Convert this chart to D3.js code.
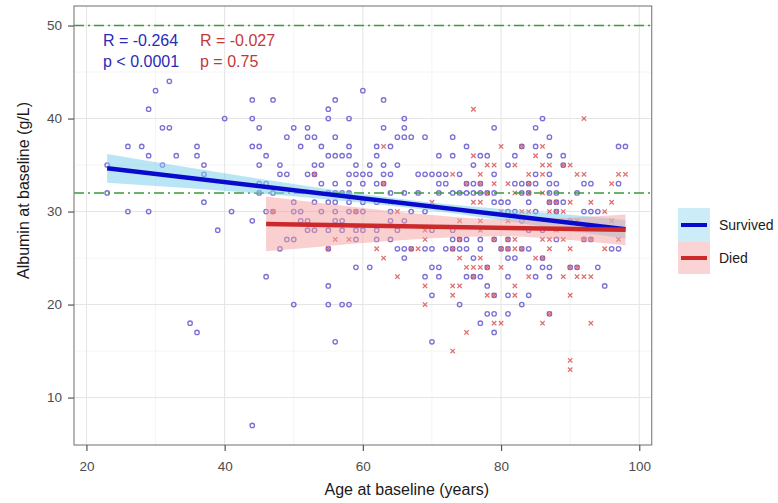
<!DOCTYPE html>
<html><head><meta charset="utf-8">
<script src="https://cdn.jsdelivr.net/npm/d3@7"></script>
<style>
body{margin:0;background:#fff}
svg{display:block}
text{font-family:"Liberation Sans",Arial,sans-serif}
</style>
</head><body>
<svg id="chart" width="778" height="503"></svg>
<script>
// ---------- data (albumin row -> list of ages) ----------
const survivedRows = [
  [44,[32]],
  [43,[30,60]],
  [42,[44,47,56,63]],
  [41,[29,55]],
  [40,[40,44,55,58,66,86]],
  [39,[31,32,45,50,52,63,66,79,85]],
  [38,[49,52,53,56,65,66,67,69,73,87]],
  [37,[26,28,36,44,45,51,54,58,62,64,75,83,85,97,98]],
  [36,[29,33,36,46,55,56,57,58,62,71,73,77,78,82,87,89]],
  [35,[23,31,37,45,48,53,54,59,61,63,65,76,81,89]],
  [34,[37,48,49,52,53,58,59,60,61,63,64,68,69,70,71,72,74,79,85,87]],
  [33,[45,46,54,56,58,60,62,63,71,72,75,76,77,82,83,84,85,87,88,92,93,97]],
  [32,[23,45,47,55,56,57,58,64,66,68,71,73,74,75,76,77,78,79,83,84,87,88,91]],
  [31,[37,50,53,55,56,58,60,62,79,80,81,84,87,88,89]],
  [30,[26,29,41,46,47,50,51,54,56,58,59,60,64,67,69,81,82,85,88,92,93,94]],
  [29,[44,51,52,56,57,64,66,83,90]],
  [28,[39,52,53,55,57,59,60,62,65,70,73,84,86]],
  [27,[49,50,59,62,64,73,74,75,77,79,81,88,92,93]],
  [26,[48,55,65,66,67,69,70,72,73,74,75,77,80,81,83,84,96,97]],
  [25,[66,76,81,82,86]],
  [24,[59,61,70,71,78,84,86,87,90,91,94]],
  [23,[46,69,71,75,76,77,81,85,87]],
  [22,[55,78,95]],
  [21,[70,79,81,84]],
  [20,[50,55,57,58,74,83]],
  [19,[78,79,81,87]],
  [18,[35,77]],
  [17,[36,79]],
  [16,[56,70]],
  [7,[44]]
];
const diedRows = [
  [41,[76]],
  [40,[92]],
  [37,[63,80,83,86]],
  [36,[76,85]],
  [35,[78,79,82,86,87,89,90]],
  [34,[53,73,77,84,86,91,92,97,98]],
  [33,[63,75,77,79,81,84,96]],
  [32,[78,82,84,86]],
  [31,[64,70,76,77,87,88,90,93,96]],
  [30,[47,59,65,80,83,84,87,88,89,95]],
  [29,[74,77,81,91,96]],
  [28,[69,77,88]],
  [27,[56,58,69,74,79,81,82,86,87,89,92,93,97]],
  [26,[55,62,67,68,73,80,81,82,83,87,90,95]],
  [25,[63,74,77,85,86]],
  [24,[75,76,77,78,80,90,91]],
  [23,[65,76,84,89,91,92,93]],
  [22,[69,73,74,82]],
  [21,[73,78,79,82,90]],
  [20,[69]],
  [19,[87]],
  [18,[79,80,86,93]],
  [17,[75]],
  [15,[73]],
  [14,[90]],
  [13,[90]]
];
// fitted lines and confidence bands
const survivedFitAge = [23, 98];
const survivedFitAlb = [34.65, 28.1];
const survivedBandAge = [23, 35, 45, 55, 67, 80, 90, 98];
const survivedBandHalf = [1.55, 1.1, 0.8, 0.55, 0.42, 0.6, 0.85, 1.0];
const diedFitAge = [46, 98];
const diedFitAlb = [28.67, 28.03];
const diedBandAge = [46, 55, 62, 70, 80, 90, 98];
const diedBandHalf = [2.95, 2.25, 1.75, 1.25, 0.9, 1.2, 1.65];
const refLines = [50, 32];
const xTicks = [20, 40, 60, 80, 100];
const yTicks = [10, 20, 30, 40, 50];
const xMinor = [30, 50, 70, 90];
const yMinor = [15, 25, 35, 45];
const groups = ["Survived", "Died"];
const stats = [["R = -0.264", "p < 0.0001"], ["R = -0.027", "p = 0.75"]];

// ---------- layout ----------
const svg = d3.select("#chart");
const L = 74, R = 651.7, T = 6, B = 445;
const x = d3.scaleLinear().domain([18.2, 101.8]).range([L, R]);
const y = d3.scaleLinear().domain([4.9, 52.1]).range([B, T]);
const BLUE = "#0a0acc", RED = "#cc2a2a";

svg.append("rect").attr("width", 778).attr("height", 503).attr("fill", "#fff");

// grid
const g = svg.append("g");
g.selectAll(".vmin").data(xMinor).join("line")
  .attr("x1", d => x(d)).attr("x2", d => x(d)).attr("y1", T).attr("y2", B)
  .attr("stroke", "#f1f1f1").attr("stroke-width", 0.7);
g.selectAll(".hmin").data(yMinor).join("line")
  .attr("y1", d => y(d)).attr("y2", d => y(d)).attr("x1", L).attr("x2", R)
  .attr("stroke", "#f1f1f1").attr("stroke-width", 0.7);
g.selectAll(".vmaj").data(xTicks).join("line")
  .attr("x1", d => x(d)).attr("x2", d => x(d)).attr("y1", T).attr("y2", B)
  .attr("stroke", "#e4e4e4").attr("stroke-width", 1);
g.selectAll(".hmaj").data(yTicks).join("line")
  .attr("y1", d => y(d)).attr("y2", d => y(d)).attr("x1", L).attr("x2", R)
  .attr("stroke", "#e4e4e4").attr("stroke-width", 1);

// points
const surv = survivedRows.flatMap(([alb, ages]) => ages.map(a => ({age: a, alb})));
const died = diedRows.flatMap(([alb, ages]) => ages.map(a => ({age: a, alb})));

svg.append("g").selectAll("circle").data(surv).join("circle")
  .attr("cx", d => x(d.age)).attr("cy", d => y(d.alb)).attr("r", 2.2)
  .attr("fill", "none").attr("stroke", "#5a4ecb").attr("stroke-opacity", 0.8)
  .attr("stroke-width", 1.35);
svg.append("g").selectAll("path").data(died).join("path")
  .attr("transform", d => `translate(${x(d.age)},${y(d.alb)})`)
  .attr("d", "M-2.2,-2.2L2.2,2.2M-2.2,2.2L2.2,-2.2")
  .attr("stroke", "#d84a4a").attr("stroke-opacity", 0.8).attr("stroke-width", 1.25);

// reference lines
svg.append("g").selectAll("line").data(refLines).join("line")
  .attr("x1", L).attr("x2", R).attr("y1", d => y(d)).attr("y2", d => y(d))
  .attr("stroke", "#3a9a3a").attr("stroke-width", 1.6).attr("stroke-dasharray", "10,4,2,4");

// bands
function bandData(fitAge, fitAlb, bAge, bHalf) {
  const f = d3.scaleLinear().domain(fitAge).range(fitAlb);
  return bAge.map((a, i) => ({age: a, lo: f(a) - bHalf[i], hi: f(a) + bHalf[i]}));
}
const area = d3.area().x(d => x(d.age)).y0(d => y(d.lo)).y1(d => y(d.hi)).curve(d3.curveMonotoneX);
svg.append("path").datum(bandData(survivedFitAge, survivedFitAlb, survivedBandAge, survivedBandHalf))
  .attr("d", area).attr("fill", "#7fd0ec").attr("fill-opacity", 0.55);
svg.append("path").datum(bandData(diedFitAge, diedFitAlb, diedBandAge, diedBandHalf))
  .attr("d", area).attr("fill", "#f4a0a0").attr("fill-opacity", 0.5);

// fit lines
svg.append("line").attr("x1", x(survivedFitAge[0])).attr("x2", x(survivedFitAge[1]))
  .attr("y1", y(survivedFitAlb[0])).attr("y2", y(survivedFitAlb[1]))
  .attr("stroke", BLUE).attr("stroke-width", 4.5);
svg.append("line").attr("x1", x(diedFitAge[0])).attr("x2", x(diedFitAge[1]))
  .attr("y1", y(diedFitAlb[0])).attr("y2", y(diedFitAlb[1]))
  .attr("stroke", RED).attr("stroke-width", 4.5);

// panel border
svg.append("rect").attr("x", L).attr("y", T).attr("width", R - L).attr("height", B - T)
  .attr("fill", "none").attr("stroke", "#858585").attr("stroke-width", 1.2);

// axes
const xa = svg.append("g").attr("transform", `translate(0,${B})`)
  .call(d3.axisBottom(x).tickValues(xTicks).tickSize(6).tickPadding(10));
const ya = svg.append("g").attr("transform", `translate(${L},0)`)
  .call(d3.axisLeft(y).tickValues(yTicks).tickSize(6).tickPadding(6));
[xa, ya].forEach(a => {
  a.select(".domain").remove();
  a.selectAll(".tick line").attr("stroke", "#555").attr("stroke-width", 1.2);
  a.selectAll(".tick text").attr("fill", "#4d4d4d").style("font-size", "13.5px")
    .style("font-family", '"Liberation Sans",Arial,sans-serif');
});

// titles
svg.append("text").attr("x", 406.8).attr("y", 495).attr("text-anchor", "middle")
  .style("font-size", "16px").attr("fill", "#1a1a1a").text("Age at baseline (years)");
svg.append("text").attr("transform", "translate(29,190.5) rotate(-90)").attr("text-anchor", "middle")
  .style("font-size", "16px").attr("fill", "#1a1a1a").text("Albumin at baseline (g/L)");

// stats
const statCols = [["#2a2ab8", 103], ["#c4383a", 200]];
stats.forEach((s, i) => {
  s.forEach((t, j) => {
    svg.append("text").attr("x", statCols[i][1]).attr("y", 46 + j * 21)
      .style("font-size", "16px").attr("fill", statCols[i][0]).text(t);
  });
});

// legend
const leg = svg.append("g");
const legFill = [["#7fd0ec", 0.4, BLUE], ["#f4a0a0", 0.45, RED]];
const legY = [208, 242], legH = [34, 32];
groups.forEach((name, i) => {
  leg.append("rect").attr("x", 678).attr("y", legY[i]).attr("width", 32).attr("height", legH[i])
    .attr("fill", legFill[i][0]).attr("fill-opacity", legFill[i][1]);
  const cy = legY[i] + legH[i] / 2;
  leg.append("line").attr("x1", 681).attr("x2", 707).attr("y1", cy).attr("y2", cy)
    .attr("stroke", legFill[i][2]).attr("stroke-width", 4);
  leg.append("text").attr("x", 719).attr("y", cy + 5).style("font-size", "14px")
    .attr("fill", "#1a1a1a").text(name);
});
</script>
</body></html>
